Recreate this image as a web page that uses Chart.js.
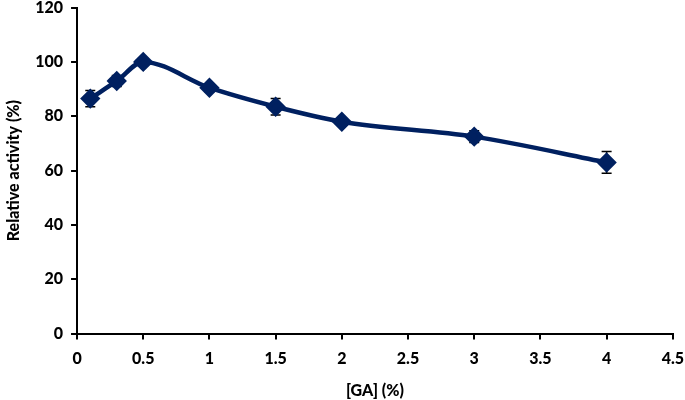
<!DOCTYPE html>
<html>
<head>
<meta charset="utf-8">
<script src="https://cdn.jsdelivr.net/npm/chart.js@4/dist/chart.umd.min.js"></script>
<style>
  html, body { margin: 0; padding: 0; background: #fff; overflow: hidden; }
  #wrap { width: 694px; height: 410px; margin-top: -10px; }
</style>
</head>
<body>
<div id="wrap"><canvas id="chart1"></canvas></div>
<script>
const gaConc = [0.1, 0.3, 0.5, 1, 1.5, 2, 3, 4];
const activity = [86.5, 93, 100, 90.5, 83.5, 78, 72.5, 63];
const errors = [3, 2, 1, 1.5, 3, 1, 2.2, 4];

const navy = '#002060';
const axisFont = { family: 'Lato', weight: 900, size: 16 };

// error bars, drawn under the markers
const errorBars = {
  id: 'errorBars',
  beforeDatasetsDraw(chart) {
    const { ctx, scales: { x, y } } = chart;
    ctx.save();
    ctx.strokeStyle = '#000';
    ctx.lineWidth = 1.5;
    gaConc.forEach((gx, i) => {
      const px = x.getPixelForValue(gx);
      const top = y.getPixelForValue(activity[i] + errors[i]);
      const bot = y.getPixelForValue(activity[i] - errors[i]);
      ctx.beginPath();
      ctx.moveTo(px, top); ctx.lineTo(px, bot);
      ctx.moveTo(px - 5, top); ctx.lineTo(px + 5, top);
      ctx.moveTo(px - 5, bot); ctx.lineTo(px + 5, bot);
      ctx.stroke();
    });
    ctx.restore();
  }
};

const ctx1 = document.getElementById('chart1').getContext('2d');
new Chart(ctx1, {
  type: 'scatter',
  data: {
    datasets: [{
      label: '',
      data: gaConc.map((g, i) => ({ x: g, y: activity[i] })),
      showLine: true,
      borderColor: navy,
      borderWidth: 4.5,
      backgroundColor: navy,
      tension: 0.4,
      cubicInterpolationMode: 'monotone',
      pointStyle: 'rectRot',
      pointRadius: 7,
      pointBackgroundColor: navy,
      pointBorderColor: navy
    }]
  },
  options: {
    responsive: true,
    maintainAspectRatio: false,
    animation: false,
    layout: { padding: 0 },
    plugins: {
      legend: { display: false },
      tooltip: { enabled: false }
    },
    scales: {
      x: {
        type: 'linear',
        min: 0,
        max: 4.5,
        ticks: {
          stepSize: 0.5,
          color: '#000',
          font: axisFont,
          padding: 10,
          callback: v => String(v)
        },
        grid: { drawOnChartArea: false, tickLength: 6, color: '#000', lineWidth: 2 },
        border: { color: '#000', width: 2 },
        title: {
          display: true,
          text: '[GA] (%)',
          color: '#000',
          font: axisFont,
          padding: { top: 2, bottom: 0 }
        }
      },
      y: {
        min: 0,
        max: 120,
        ticks: {
          stepSize: 20,
          color: '#000',
          font: axisFont,
          padding: 8
        },
        grid: { drawOnChartArea: false, tickLength: 6, color: '#000', lineWidth: 2 },
        border: { color: '#000', width: 2 },
        title: {
          display: true,
          text: 'Relative activity (%)',
          color: '#000',
          font: axisFont,
          padding: { bottom: 4 }
        }
      }
    }
  },
  plugins: [errorBars]
});
</script>
</body>
</html>
